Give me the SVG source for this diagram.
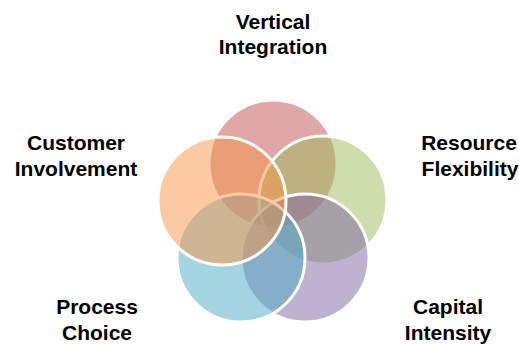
<svg xmlns="http://www.w3.org/2000/svg" width="519" height="346" viewBox="0 0 519 346">
<style>
.c{stroke:#FFFFFF;stroke-width:3;fill-opacity:0.5}
.t{font-family:"Liberation Sans",Arial,sans-serif;font-weight:bold;font-size:21px;fill:#000000;text-anchor:middle}
</style>
<rect width="519" height="346" fill="#FFFFFF"/>
<g id="vertical-integration">
<circle class="c" cx="273" cy="164" r="64" fill="#C0504D"/>
<text class="t" x="273" y="29">Vertical</text>
<text class="t" x="273" y="54">Integration</text>
</g>
<g id="resource-flexibility">
<circle class="c" cx="323" cy="200" r="64" fill="#9BBB59"/>
<text class="t" x="469" y="150">Resource</text>
<text class="t" x="470" y="176">Flexibility</text>
</g>
<g id="capital-intensity">
<circle class="c" cx="305" cy="258" r="64" fill="#8064A2"/>
<text class="t" x="448" y="314">Capital</text>
<text class="t" x="448" y="340">Intensity</text>
</g>
<g id="process-choice">
<circle class="c" cx="241" cy="258" r="64" fill="#4BACC6"/>
<text class="t" x="97" y="314">Process</text>
<text class="t" x="97" y="340">Choice</text>
</g>
<g id="customer-involvement">
<circle class="c" cx="222" cy="201" r="64" fill="#F79646"/>
<text class="t" x="76" y="150">Customer</text>
<text class="t" x="76" y="176">Involvement</text>
</g>
<g id="connectors"></g>
</svg>
